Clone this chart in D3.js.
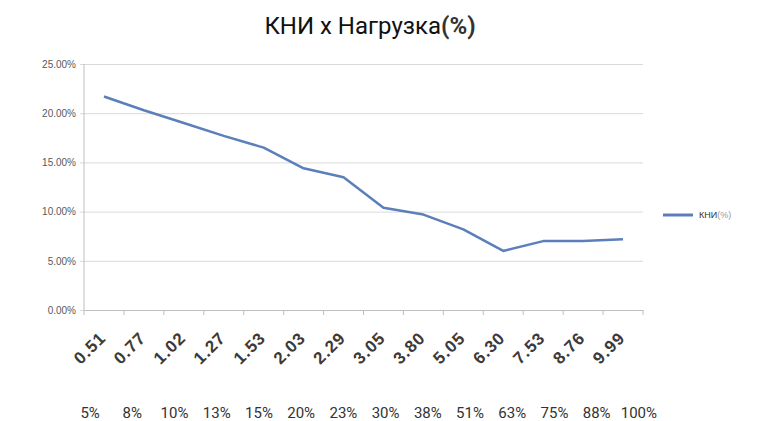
<!DOCTYPE html>
<html>
<head>
<meta charset="utf-8">
<script src="https://cdn.jsdelivr.net/npm/d3@7"></script>
<style>
  body { margin: 0; background: #fff; }
  svg { display: block; }
</style>
</head>
<body>
<div id="chart"></div>
<script>
// chart data
const categories = ['0.51', '0.77', '1.02', '1.27', '1.53', '2.03', '2.29', '3.05', '3.80', '5.05', '6.30', '7.53', '8.76', '9.99'];
const kniValues = [21.7, 20.3, 19.0, 17.7, 16.5, 14.4, 13.5, 10.4, 9.7, 8.2, 6.0, 7.0, 7.0, 7.2];
const loadLabels = ['5%', '8%', '10%', '13%', '15%', '20%', '23%', '30%', '38%', '51%', '63%', '75%', '88%', '100%'];
const yTicks = [0, 5, 10, 15, 20, 25];

const width = 771;
const height = 421;
const margin = { top: 64, right: 128, bottom: 111, left: 84 };
const plotW = width - margin.left - margin.right;
const plotH = height - margin.top - margin.bottom;

const svg = d3.select('#chart').append('svg')
  .attr('width', width)
  .attr('height', height);

// title
svg.append('text')
  .attr('x', 370)
  .attr('y', 34)
  .attr('text-anchor', 'middle')
  .style('font-family', 'Roboto, "Noto Sans", sans-serif')
  .style('font-size', '24px')
  .style('fill', '#111')
  .text('КНИ х Нагрузка')
  .append('tspan')
  .style('font-weight', 'bold')
  .style('fill', '#333')
  .text('(%)');

const g = svg.append('g')
  .attr('transform', `translate(${margin.left},${margin.top})`);

// scales
const x = d3.scaleBand().domain(categories).range([0, plotW]);
const y = d3.scaleLinear().domain([0, 25]).range([plotH, 0]);

// gridlines + y axis
const yAxis = d3.axisLeft(y)
  .tickValues(yTicks)
  .tickSize(-plotW)
  .tickPadding(8)
  .tickFormat(d => d.toFixed(2) + '%');

const gY = g.append('g').call(yAxis);
gY.select('.domain').remove();
gY.selectAll('.tick line')
  .attr('x1', -4)
  .style('stroke', '#d9d9d9');
gY.selectAll('.tick text')
  .style('font-family', '"Liberation Sans", Arial, sans-serif')
  .style('font-size', '10px')
  .style('fill', '#595959');

// axis lines
g.append('line')
  .attr('x1', 0).attr('x2', 0)
  .attr('y1', 0).attr('y2', plotH)
  .style('stroke', '#bfbfbf');

const xAxis = d3.axisBottom(x).tickSize(0).tickFormat('');
const gX = g.append('g')
  .attr('transform', `translate(0,${plotH})`)
  .call(xAxis);
gX.select('.domain').style('stroke', '#bfbfbf');

// category boundary ticks
g.selectAll('.xtick')
  .data(categories.concat(['end']))
  .enter()
  .append('line')
  .attr('x1', (d, i) => i * x.step())
  .attr('x2', (d, i) => i * x.step())
  .attr('y1', plotH)
  .attr('y2', plotH + 5)
  .style('stroke', '#bfbfbf');

// rotated category labels
g.selectAll('.xlab')
  .data(categories)
  .enter()
  .append('g')
  .attr('transform', d => `translate(${x(d) + x.bandwidth() / 2 + 3},${plotH + 29})`)
  .append('text')
  .attr('transform', 'rotate(-45)')
  .attr('text-anchor', 'end')
  .style('font-family', '"Liberation Sans", Arial, sans-serif')
  .style('font-size', '17px')
  .style('letter-spacing', '1px')
  .style('font-weight', 'bold')
  .style('fill', '#3a3a3a')
  .text(d => d);

// line
const line = d3.line()
  .x((d, i) => x(categories[i]) + x.bandwidth() / 2)
  .y(d => y(d));

g.append('path')
  .datum(kniValues)
  .attr('d', line)
  .style('fill', 'none')
  .style('stroke', '#5b7fba')
  .style('stroke-width', 2.5)
  .style('stroke-linejoin', 'round');

// legend
const legend = svg.append('g').attr('transform', 'translate(663,215)');
legend.append('line')
  .attr('x1', 0).attr('x2', 30)
  .attr('y1', 0).attr('y2', 0)
  .style('stroke', '#5b7fba')
  .style('stroke-width', 3);
legend.append('text')
  .attr('x', 36)
  .attr('y', 3)
  .style('font-family', '"Liberation Sans", Arial, sans-serif')
  .style('font-size', '9px')
  .style('fill', '#333')
  .text('КНИ')
  .append('tspan')
  .style('fill', '#999')
  .text('(%)');

// load row below chart
const xLoad = d3.scaleBand().domain(loadLabels).range([69, 660]);
svg.selectAll('.load')
  .data(loadLabels)
  .enter()
  .append('text')
  .attr('x', d => xLoad(d) + xLoad.bandwidth() / 2)
  .attr('y', 418)
  .attr('text-anchor', 'middle')
  .style('font-family', 'Roboto, "Noto Sans", sans-serif')
  .style('font-size', '15px')
  .style('fill', '#333')
  .text(d => d);
</script>
</body>
</html>
